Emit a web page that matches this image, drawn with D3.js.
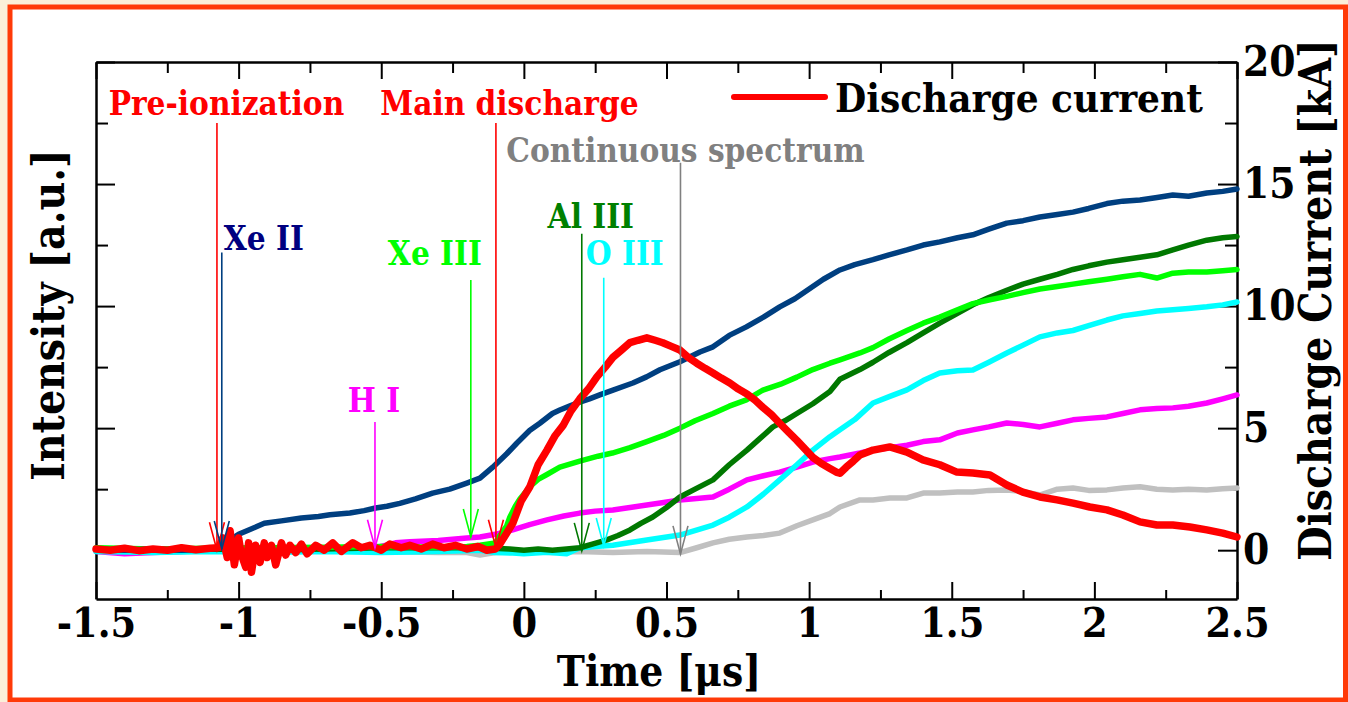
<!doctype html>
<html>
<head>
<meta charset="utf-8">
<style>
    body { margin: 0; background: #fbefd9; }
    svg { display: block; }
    text { font-family: 'DejaVu Serif Condensed', 'DejaVu Serif', serif; font-stretch: condensed; font-weight: bold; }
    .axis path, .axis line { stroke: #000; }
    .series { fill: none; stroke-linejoin: round; stroke-linecap: round; }
</style>
<script src="https://cdn.jsdelivr.net/npm/d3@7"></script>
</head>
<body>
<svg width="1348" height="702"></svg>
<script>
// time [us] vs intensity [a.u.] (plotted on the same -2..20 grid as the current)
var xe2 = [[-1.5,0.05],[-1.4,0.0],[-1.3,0.05],[-1.2,0.0],[-1.1,0.05],[-1.06,0.1],[-1.02,0.5],[-1.0,0.65],[-0.95,0.9],[-0.91,1.1],[-0.85,1.2],[-0.78,1.32],[-0.72,1.38],[-0.68,1.45],[-0.61,1.52],[-0.56,1.62],[-0.52,1.73],[-0.48,1.8],[-0.435,1.92],[-0.38,2.1],[-0.32,2.34],[-0.26,2.5],[-0.2,2.75],[-0.154,2.95],[-0.109,3.4],[-0.06,3.95],[-0.025,4.38],[0.02,4.9],[0.056,5.2],[0.1,5.6],[0.126,5.74],[0.16,5.9],[0.196,6.07],[0.23,6.2],[0.266,6.36],[0.31,6.55],[0.382,6.85],[0.43,7.1],[0.477,7.39],[0.547,7.72],[0.617,8.12],[0.663,8.33],[0.72,8.8],[0.78,9.15],[0.84,9.55],[0.897,9.97],[0.95,10.3],[1.0,10.7],[1.05,11.1],[1.108,11.48],[1.16,11.7],[1.224,11.9],[1.28,12.1],[1.343,12.3],[1.4,12.5],[1.458,12.63],[1.52,12.8],[1.574,12.92],[1.63,13.15],[1.693,13.4],[1.75,13.5],[1.809,13.65],[1.87,13.75],[1.925,13.85],[1.98,14.0],[2.044,14.2],[2.1,14.3],[2.16,14.35],[2.22,14.45],[2.275,14.55],[2.33,14.5],[2.394,14.63],[2.45,14.7],[2.5,14.8]];

var xe3 = [[-1.5,0.1],[-1.3,0.05],[-1.1,0.08],[-0.9,0.1],[-0.7,0.12],[-0.5,0.15],[-0.3,0.12],[-0.2,0.15],[-0.154,0.2],[-0.1,0.3],[-0.084,0.6],[-0.06,1.0],[-0.049,1.36],[-0.03,1.8],[-0.014,2.1],[0.021,2.6],[0.05,2.9],[0.081,3.1],[0.126,3.4],[0.196,3.65],[0.26,3.85],[0.31,3.98],[0.372,4.2],[0.431,4.45],[0.49,4.7],[0.547,5.0],[0.6,5.3],[0.663,5.6],[0.72,5.9],[0.78,6.16],[0.838,6.56],[0.9,6.8],[0.957,7.09],[1.013,7.4],[1.073,7.66],[1.108,7.8],[1.178,8.08],[1.224,8.3],[1.28,8.65],[1.343,9.0],[1.4,9.3],[1.458,9.55],[1.52,9.85],[1.574,10.1],[1.63,10.25],[1.693,10.4],[1.75,10.55],[1.809,10.7],[1.87,10.8],[1.925,10.9],[1.98,11.0],[2.044,11.1],[2.1,11.2],[2.16,11.3],[2.219,11.15],[2.275,11.35],[2.33,11.4],[2.394,11.4],[2.45,11.45],[2.5,11.5]];

var al3 = [[-1.5,0.05],[-1.3,0.0],[-1.1,0.05],[-0.9,0.0],[-0.7,0.05],[-0.5,0.1],[-0.3,0.1],[-0.15,0.1],[-0.05,0.05],[0.0,0.0],[0.05,0.05],[0.1,0.0],[0.15,0.05],[0.196,0.1],[0.24,0.25],[0.291,0.42],[0.33,0.6],[0.372,0.83],[0.41,1.1],[0.452,1.36],[0.5,1.75],[0.547,2.18],[0.6,2.5],[0.663,2.88],[0.72,3.5],[0.782,4.1],[0.83,4.6],[0.873,5.05],[0.915,5.3],[0.957,5.6],[1.013,6.0],[1.073,6.5],[1.108,7.0],[1.178,7.4],[1.224,7.7],[1.28,8.1],[1.343,8.5],[1.4,8.9],[1.458,9.3],[1.52,9.7],[1.574,10.05],[1.63,10.35],[1.693,10.65],[1.75,10.9],[1.809,11.1],[1.87,11.3],[1.925,11.5],[1.98,11.65],[2.044,11.8],[2.1,11.9],[2.16,12.0],[2.219,12.1],[2.275,12.3],[2.33,12.5],[2.394,12.7],[2.45,12.8],[2.5,12.85]];

var o3 = [[-1.5,-0.05],[-1.3,-0.1],[-1.1,-0.05],[-0.9,-0.1],[-0.7,-0.05],[-0.5,-0.1],[-0.3,-0.05],[-0.154,0.0],[-0.1,-0.1],[-0.039,-0.12],[0.0,-0.15],[0.08,-0.08],[0.15,-0.15],[0.196,0.1],[0.25,0.15],[0.312,0.2],[0.431,0.42],[0.547,0.62],[0.663,1.03],[0.72,1.35],[0.782,1.77],[0.84,2.3],[0.897,2.88],[0.957,3.5],[1.013,4.1],[1.073,4.65],[1.108,4.93],[1.16,5.35],[1.224,6.03],[1.283,6.3],[1.343,6.57],[1.4,6.95],[1.458,7.26],[1.52,7.35],[1.574,7.38],[1.63,7.7],[1.693,8.08],[1.75,8.4],[1.809,8.74],[1.87,8.9],[1.925,9.0],[1.98,9.2],[2.044,9.43],[2.1,9.6],[2.16,9.7],[2.219,9.8],[2.275,9.85],[2.33,9.9],[2.394,9.97],[2.45,10.05],[2.5,10.17]];

var h1 = [[-1.5,-0.05],[-1.4,-0.15],[-1.3,-0.1],[-1.2,-0.05],[-1.1,0.0],[-1.0,-0.05],[-0.9,0.0],[-0.8,0.05],[-0.7,0.05],[-0.6,0.1],[-0.52,0.1],[-0.45,0.3],[-0.4,0.35],[-0.3,0.4],[-0.2,0.5],[-0.154,0.54],[-0.1,0.65],[-0.039,0.83],[0.02,1.05],[0.081,1.24],[0.14,1.4],[0.196,1.52],[0.25,1.6],[0.312,1.65],[0.372,1.75],[0.431,1.85],[0.49,1.95],[0.547,2.06],[0.606,2.12],[0.663,2.18],[0.72,2.5],[0.782,2.88],[0.84,3.05],[0.897,3.2],[0.957,3.4],[1.013,3.61],[1.073,3.75],[1.108,3.82],[1.178,3.98],[1.224,4.1],[1.283,4.2],[1.343,4.3],[1.4,4.45],[1.458,4.52],[1.52,4.8],[1.574,4.93],[1.63,5.05],[1.693,5.21],[1.75,5.15],[1.809,5.05],[1.87,5.2],[1.925,5.34],[1.98,5.4],[2.044,5.46],[2.1,5.6],[2.16,5.75],[2.219,5.8],[2.275,5.83],[2.33,5.9],[2.394,6.03],[2.45,6.2],[2.5,6.36]];

var cont = [[-1.5,0.0],[-1.3,-0.05],[-1.1,0.0],[-0.9,-0.05],[-0.7,0.0],[-0.5,-0.05],[-0.3,-0.1],[-0.2,-0.1],[-0.154,-0.2],[-0.1,-0.1],[0.0,-0.05],[0.1,-0.1],[0.196,-0.05],[0.312,-0.1],[0.431,-0.05],[0.547,-0.1],[0.606,0.1],[0.663,0.3],[0.72,0.45],[0.782,0.54],[0.84,0.6],[0.897,0.7],[0.957,1.0],[1.013,1.24],[1.073,1.5],[1.108,1.77],[1.178,2.06],[1.224,2.06],[1.283,2.14],[1.343,2.14],[1.4,2.34],[1.458,2.34],[1.52,2.38],[1.574,2.38],[1.63,2.45],[1.693,2.47],[1.75,2.4],[1.809,2.26],[1.87,2.5],[1.925,2.55],[1.98,2.45],[2.044,2.47],[2.1,2.55],[2.16,2.6],[2.219,2.5],[2.275,2.47],[2.33,2.5],[2.394,2.47],[2.45,2.52],[2.5,2.55]];

// discharge current [kA]
var current = [[-1.5,0.05],[-1.45,0.0],[-1.4,0.08],[-1.35,-0.02],[-1.3,0.05],[-1.25,0.0],[-1.2,0.1],[-1.15,0.02],[-1.1,0.08],[-1.07,0.1],[-1.055,0.5],[-1.04,-0.3],[-1.03,0.8],[-1.015,-0.6],[-1.0,0.5],[-0.99,-0.2],[-0.975,-0.7],[-0.965,0.3],[-0.955,-0.9],[-0.94,0.2],[-0.925,-0.5],[-0.91,0.3],[-0.9,-0.3],[-0.885,0.2],[-0.87,-0.6],[-0.85,0.3],[-0.835,-0.2],[-0.82,0.2],[-0.8,-0.1],[-0.78,0.25],[-0.76,-0.15],[-0.73,0.2],[-0.7,0.0],[-0.67,0.3],[-0.64,-0.05],[-0.6,0.3],[-0.57,0.1],[-0.54,0.2],[-0.5,0.0],[-0.47,0.25],[-0.43,0.1],[-0.4,0.2],[-0.36,0.05],[-0.32,0.25],[-0.28,0.1],[-0.24,0.2],[-0.2,0.05],[-0.16,0.15],[-0.13,0.0],[-0.1,0.05],[-0.084,0.25],[-0.06,0.7],[-0.039,1.1],[-0.01,2.0],[0.021,2.6],[0.05,3.5],[0.081,4.1],[0.11,4.7],[0.137,5.1],[0.165,5.7],[0.196,6.2],[0.226,6.6],[0.256,7.1],[0.285,7.5],[0.312,7.9],[0.342,8.2],[0.372,8.5],[0.4,8.6],[0.431,8.7],[0.46,8.6],[0.487,8.5],[0.517,8.35],[0.547,8.2],[0.576,7.9],[0.606,7.66],[0.635,7.45],[0.663,7.26],[0.692,7.05],[0.722,6.85],[0.752,6.6],[0.782,6.4],[0.81,6.15],[0.838,5.85],[0.868,5.55],[0.897,5.2],[0.927,4.85],[0.957,4.5],[0.985,4.15],[1.013,3.8],[1.043,3.55],[1.073,3.35],[1.095,3.2],[1.108,3.15],[1.13,3.4],[1.155,3.65],[1.178,3.9],[1.224,4.1],[1.283,4.23],[1.343,4.02],[1.399,3.7],[1.458,3.5],[1.518,3.2],[1.574,3.16],[1.634,3.08],[1.693,2.67],[1.749,2.38],[1.809,2.18],[1.869,2.06],[1.925,1.93],[1.984,1.77],[2.044,1.65],[2.1,1.44],[2.16,1.16],[2.219,1.03],[2.275,1.03],[2.335,0.95],[2.394,0.83],[2.45,0.7],[2.5,0.54]];

var xTicks = [-1.5, -1, -0.5, 0, 0.5, 1, 1.5, 2, 2.5];
var yTicks = [0, 5, 10, 15, 20];

// annotation arrows: label, time of arrow, top and tip of the arrow (same units as y)
var arrowLabels = ["Pre-ionization", "Xe II", "H I", "Xe III", "Main discharge", "Al III", "O III", "Continuous spectrum"];
var arrowTimes  = [-1.076, -1.059, -0.522, -0.186, -0.098, 0.203, 0.28, 0.549];
var arrowTops   = [17.5, 12.2, 5.25, 11.07, 17.5, 12.96, 11.16, 15.87];
var arrowTips   = [0.0, 0.05, 0.1, 0.54, 0.1, -0.03, 0.17, -0.15];

var svg = d3.select("svg");

// frame
svg.append("rect").attr("x", 10).attr("y", 7).attr("width", 1335.5).attr("height", 693)
    .attr("fill", "#fff").attr("stroke", "#ff3a08").attr("stroke-width", 5);

var x = d3.scaleLinear().domain([-1.5, 2.5]).range([96, 1237]);
var y = d3.scaleLinear().domain([-2, 20]).range([599, 62]);

var minorX = d3.range(-1.25, 2.5, 0.5);
var minorY = [2.5, 7.5, 12.5, 17.5];

function styleAxis(g) {
    g.selectAll("path").attr("stroke-width", 2.5);
    g.selectAll("line").attr("stroke-width", 2);
}

// bottom
svg.append("g").attr("class", "axis").attr("transform", "translate(0,599)")
    .call(d3.axisBottom(x).tickValues(xTicks).tickSizeInner(-17).tickSizeOuter(0).tickPadding(9)
        .tickFormat(function(d) { return d; }))
    .call(styleAxis)
    .selectAll("text").attr("font-size", 41).attr("fill", "#000");
svg.append("g").attr("class", "axis").attr("transform", "translate(0,599)")
    .call(d3.axisBottom(x).tickValues(minorX).tickSize(-9).tickFormat(""))
    .call(styleAxis).select(".domain").remove();
// top
svg.append("g").attr("class", "axis").attr("transform", "translate(0,62)")
    .call(d3.axisTop(x).tickValues(xTicks).tickSizeInner(-17).tickSizeOuter(0).tickFormat(""))
    .call(styleAxis);
svg.append("g").attr("class", "axis").attr("transform", "translate(0,62)")
    .call(d3.axisTop(x).tickValues(minorX).tickSize(-11).tickFormat(""))
    .call(styleAxis).select(".domain").remove();
// left (intensity, no labels)
svg.append("g").attr("class", "axis").attr("transform", "translate(96,0)")
    .call(d3.axisLeft(y).tickValues(yTicks).tickSizeInner(-19).tickSizeOuter(0).tickFormat(""))
    .call(styleAxis);
svg.append("g").attr("class", "axis").attr("transform", "translate(96,0)")
    .call(d3.axisLeft(y).tickValues(minorY).tickSize(-12).tickFormat(""))
    .call(styleAxis).select(".domain").remove();
// right (current)
svg.append("g").attr("class", "axis").attr("transform", "translate(1237,0)")
    .call(d3.axisRight(y).tickValues(yTicks).tickSizeInner(-19).tickSizeOuter(0).tickPadding(6))
    .call(styleAxis)
    .selectAll("text").attr("font-size", 42).attr("fill", "#000");
svg.append("g").attr("class", "axis").attr("transform", "translate(1237,0)")
    .call(d3.axisRight(y).tickValues(minorY).tickSize(-12).tickFormat(""))
    .call(styleAxis).select(".domain").remove();

// axis titles
svg.append("text").attr("transform", "translate(64,315) rotate(-90)")
    .attr("text-anchor", "middle").attr("font-size", 44).text("Intensity [a.u.]");
svg.append("text").attr("transform", "translate(1331,300) rotate(-90)")
    .attr("text-anchor", "middle").attr("font-size", 44).text("Discharge Current [kA]");
svg.append("text").attr("x", 659).attr("y", 686)
    .attr("text-anchor", "middle").attr("font-size", 42).text("Time [\u03bcs]");

// series
var line = d3.line().x(function(d) { return x(d[0]); }).y(function(d) { return y(d[1]); });
var series = [
    { data: cont, color: "#c0c0c0", w: 5.5 },
    { data: h1, color: "#ff00ff", w: 5.5 },
    { data: o3, color: "#00ffff", w: 5.5 },
    { data: al3, color: "#007800", w: 5.5 },
    { data: xe3, color: "#00ff00", w: 5.5 },
    { data: xe2, color: "#003f80", w: 5.5 },
    { data: current, color: "#ff0000", w: 7.5 }
];
svg.selectAll(".series").data(series).enter().append("path")
    .attr("class", "series")
    .attr("d", function(d) { return line(d.data); })
    .attr("stroke", function(d) { return d.color; })
    .attr("stroke-width", function(d) { return d.w; });

// arrows
var arrowColors = ["#ff0000", "#003f80", "#ff00ff", "#00ff00", "#ff0000", "#007800", "#00ffff", "#808080"];
var textColors  = ["#ff0000", "#000080", "#ff00ff", "#00ff00", "#ff0000", "#008000", "#00ffff", "#808080"];
var labelDx  = [9.5, 42, -1, -36, 13.5, 9, 21, 5];
var labelGap = [8, 2, 10, 15, 8, 6, 13, 1];

arrowLabels.forEach(function(lab, i) {
    var ax = x(arrowTimes[i]), top = y(arrowTops[i]), tip = y(arrowTips[i]);
    var g = svg.append("g").attr("stroke", arrowColors[i]).attr("stroke-width", 1.6).attr("fill", "none");
    g.append("line").attr("x1", ax).attr("x2", ax).attr("y1", top).attr("y2", tip);
    g.append("path").attr("d", "M" + (ax - 7.5) + "," + (tip - 28) + "L" + ax + "," + tip + "L" + (ax + 7.5) + "," + (tip - 28));
    svg.append("text").attr("x", ax + labelDx[i]).attr("y", top - labelGap[i])
        .attr("text-anchor", "middle").attr("font-size", 33)
        .attr("fill", textColors[i]).text(lab);
});

// legend
svg.append("line").attr("x1", 734).attr("x2", 825).attr("y1", 97).attr("y2", 97)
    .attr("stroke", "#ff0000").attr("stroke-width", 6).attr("stroke-linecap", "round");
svg.append("text").attr("x", 835).attr("y", 112).attr("font-size", 40).text("Discharge current");
</script>
</body>
</html>
